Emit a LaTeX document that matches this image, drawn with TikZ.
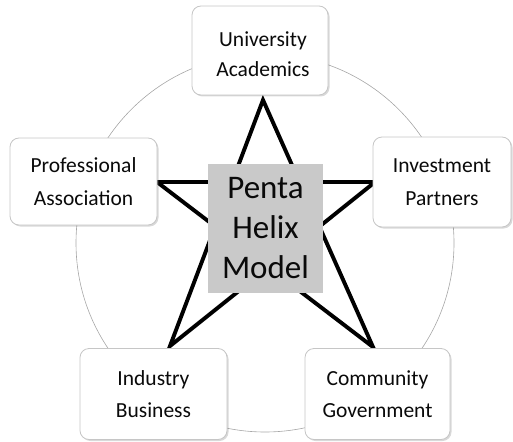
\documentclass[tikz,border=0pt]{standalone}
\usepackage{fontspec}
\setmainfont{Carlito}
\usetikzlibrary{shadows}
\definecolor{hubgray}{RGB}{201,201,201}
\definecolor{inktext}{RGB}{10,10,10}
\begin{document}
\begin{tikzpicture}[x=1pt,y=-1pt,
  party/.style={draw=gray!45, line width=0.8pt, fill=white, rounded corners=9pt,
    align=center, text=inktext, font=\fontsize{21.5}{32.5}\selectfont, inner sep=0pt,
    drop shadow={opacity=0.3, shadow xshift=1.5pt, shadow yshift=-1.5pt}},
  partytext/.style={align=center, text=inktext, font=\fontsize{21.5}{30.5}\selectfont,
    inner sep=0pt},
  hub/.style={fill=hubgray, align=center, text=inktext,
    font=\fontsize{33}{40}\selectfont, inner sep=0pt},
  ring/.style={draw=gray!70, line width=0.6pt},
  starline/.style={draw=black, line width=3.9pt, line join=miter}]
  \useasboundingbox (0,0) rectangle (513,441);

  % outer ring joining the five partners
  \coordinate (ringc) at (265,243);
  \draw[ring] (ringc) circle[radius=189pt];

  % five-pointed star behind the hub
  \coordinate (sT)  at (263,100);
  \coordinate (sL)  at (157,182);
  \coordinate (sR)  at (375,182);
  \coordinate (sBL) at (170,346);
  \coordinate (sBR) at (373,347);
  \draw[starline] (sT)
    -- (intersection of sT--sBL and sL--sR) -- (sL)
    -- (intersection of sL--sBR and sT--sBL) -- (sBL)
    -- (intersection of sBL--sR and sL--sBR) -- (sBR)
    -- (intersection of sBR--sT and sR--sBL) -- (sR)
    -- (intersection of sR--sL and sT--sBR) -- cycle;

  % central hub
  \node[hub, minimum width=115pt, minimum height=129pt] (hub) at (265.5,228.5)
    {Penta\\Helix\\Model};

  % the five partners
  \node[party, minimum width=136pt, minimum height=89pt] (uni) at (260,50.5) {};
  \node[partytext] (unitext) at ([xshift=3pt,yshift=-3.5pt]uni.center)
    {University\\Academics};
  \node[party, minimum width=147pt, minimum height=87pt] (prof) at (83.5,181.5)
    {Professional\\Association};
  \node[party, minimum width=138pt, minimum height=90pt] (inv) at (442,182)
    {Investment\\Partners};
  \node[party, minimum width=147pt, minimum height=91pt] (ind) at (153.5,394)
    {Industry\\Business};
  \node[party, minimum width=145pt, minimum height=91pt] (com) at (377.5,394)
    {Community\\Government};
\end{tikzpicture}
\end{document}
